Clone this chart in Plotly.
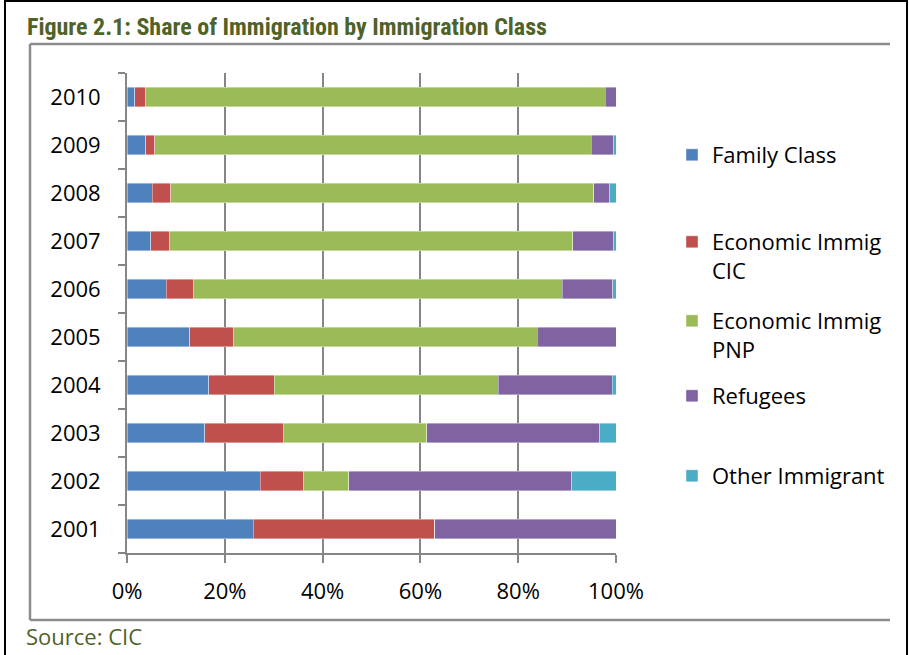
import plotly.graph_objects as go

years = ["2001", "2002", "2003", "2004", "2005", "2006", "2007", "2008", "2009", "2010"]
family = [25.8, 27.2, 15.9, 16.7, 12.8, 8.0, 4.9, 5.2, 3.8, 1.6]
econ_cic = [37.1, 8.9, 16.1, 13.4, 9.0, 5.7, 3.85, 3.7, 1.9, 2.2]
econ_pnp = [0.0, 9.2, 29.3, 45.8, 62.1, 75.3, 82.45, 86.6, 89.2, 94.0]
refugees = [37.1, 45.7, 35.4, 23.3, 16.1, 10.3, 8.3, 3.2, 4.6, 2.2]
other = [0.0, 9.0, 3.3, 0.8, 0.0, 0.7, 0.5, 1.3, 0.5, 0.2]

series = [
    ("Family Class", family, "#4F81BD"),
    ("Economic Immig<br>CIC", econ_cic, "#C0504D"),
    ("Economic Immig<br>PNP", econ_pnp, "#9BBB59"),
    ("Refugees", refugees, "#8064A2"),
    ("Other Immigrant", other, "#4BACC6"),
]

W, H = 909, 655
L, R, T, B = 127, 616, 73, 553
FONT = "Open Sans"
OLIVE = "#4F6228"

fig = go.Figure()
legend_names = ["legend", "legend2", "legend3", "legend4", "legend5"]
for (name, vals, col), lg in zip(series, legend_names):
    fig.add_trace(go.Bar(
        y=years, x=vals, name=name, orientation="h",
        marker=dict(color=col, line=dict(color="rgba(255,255,255,0.5)", width=0.8)),
        legend=lg,
    ))

def px2x(px):
    return (px - L) / (R - L)

def py2y(py):
    return (B - py) / (B - T)

# legend first-line centres in pixels
legend_centres = [150, 237, 316, 391, 471]
layout_legends = {}
for lg, c in zip(legend_names, legend_centres):
    layout_legends[lg] = dict(
        x=px2x(672), xanchor="left", y=py2y(c - 16), yanchor="top",
        font=dict(family=FONT, size=22, color="#000000"),
        bgcolor="rgba(0,0,0,0)", valign="top",
    )

fig.update_layout(
    width=W, height=H,
    margin=dict(l=L, r=W - R, t=T, b=H - B),
    barmode="stack", bargap=0.6,
    plot_bgcolor="white", paper_bgcolor="white",
    showlegend=True,
    xaxis=dict(
        range=[0, 100], dtick=20, ticksuffix="%",
        showgrid=True, gridcolor="#868686", gridwidth=1.8,
        showline=True, linecolor="#868686", linewidth=1.8,
        ticks="outside", ticklen=8, tickcolor="#868686", tickwidth=1.8,
        ticklabelstandoff=10,
        tickfont=dict(family=FONT, size=22, color="#000000"),
        zeroline=False, fixedrange=True,
    ),
    yaxis=dict(
        type="category", categoryorder="array", categoryarray=years,
        tickson="boundaries", ticks="outside", ticklen=7,
        tickcolor="#868686", tickwidth=1.8,
        showline=True, linecolor="#868686", linewidth=1.8,
        showgrid=False, ticklabelstandoff=20,
        tickfont=dict(family=FONT, size=22, color="#000000"),
        fixedrange=True,
    ),
    **layout_legends,
)

# outer page frame and inner grey chart box
fig.add_shape(type="line", xref="paper", yref="paper",
              x0=px2x(5), x1=px2x(5), y0=py2y(0), y1=py2y(655),
              line=dict(color="#000000", width=2))
fig.add_shape(type="line", xref="paper", yref="paper",
              x0=px2x(5), x1=px2x(907), y0=py2y(1), y1=py2y(1),
              line=dict(color="#000000", width=2))
fig.add_shape(type="line", xref="paper", yref="paper",
              x0=px2x(907), x1=px2x(907), y0=py2y(0), y1=py2y(655),
              line=dict(color="#000000", width=2))
for (x0, y0, x1, y1) in [(30, 44, 890, 44), (30, 44, 30, 620), (30, 620, 890, 620)]:
    fig.add_shape(type="line", xref="paper", yref="paper",
                  x0=px2x(x0), x1=px2x(x1), y0=py2y(y0), y1=py2y(y1),
                  line=dict(color="#8C8C8C", width=2.5))

fig.add_annotation(text="<b>Figure 2.1: Share of Immigration by Immigration Class</b>",
                   xref="paper", yref="paper", x=px2x(25), y=py2y(27),
                   xanchor="left", yanchor="middle", showarrow=False,
                   font=dict(family="Liberation Sans Narrow, Roboto Condensed, Roboto", size=24, color=OLIVE))
fig.add_annotation(text="Source: CIC",
                   xref="paper", yref="paper", x=px2x(24), y=py2y(636),
                   xanchor="left", yanchor="middle", showarrow=False,
                   font=dict(family=FONT, size=22, color=OLIVE))

fig.write_html("out.html")
